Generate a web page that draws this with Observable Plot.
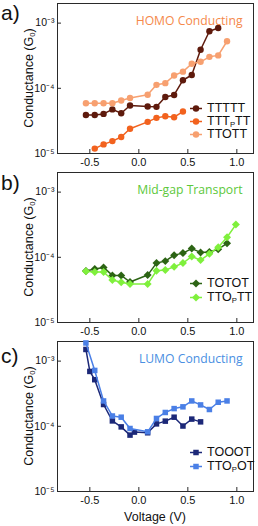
<!DOCTYPE html>
<html><head><meta charset="utf-8">
<script src="https://cdn.jsdelivr.net/npm/d3@7"></script>
<script src="https://cdn.jsdelivr.net/npm/@observablehq/plot@0.6"></script>
<style>
html,body{margin:0;padding:0;background:#fff;overflow:hidden;}
body{font-family:"Liberation Sans",Arial,sans-serif;color:#111;}
.panel{position:relative;width:258px;}
.panel svg{display:block;}
.lab{position:absolute;left:1px;font-size:21px;line-height:21px;color:#111;}
.ylab{position:absolute;width:150px;height:14px;text-align:center;font-size:12.5px;line-height:14px;transform:rotate(-90deg);white-space:nowrap;}
.xlab{position:absolute;left:57px;width:196px;text-align:center;font-size:12.5px;line-height:14px;}
.row{position:absolute;left:189px;height:11px;line-height:11px;font-size:12.5px;display:flex;align-items:center;white-space:nowrap;overflow:visible;}
.row svg{margin-right:4px;display:block;}
sub{font-size:0.62em;vertical-align:-0.2em;line-height:0;}
</style></head><body>
<div id="root"></div>
<script>
// ---------- data ----------
const xTicks = [-0.5, 0, 0.5, 1.0];
const yTicks = [1e-5, 1e-4, 1e-3];

// panel a
const vTTTTT = [-0.54,-0.45,-0.36,-0.27,-0.18,-0.09,0.09,0.18,0.27,0.36,0.45,0.54,0.63,0.72,0.81];
const gTTTTT = [3.9e-5,3.9e-5,4.05e-5,4.75e-5,4.15e-5,5.45e-5,5.25e-5,5.2e-5,7.35e-5,7.9e-5,1.33e-4,1.6e-4,3.9e-4,7.5e-4,8.4e-4];
const vTTTpTT = [-0.45,-0.36,-0.27,-0.18,-0.09,0.09,0.18,0.27,0.36,0.45];
const gTTTpTT = [1.19e-5,1.38e-5,1.55e-5,1.79e-5,2.4e-5,3.06e-5,3.52e-5,3.73e-5,3.6e-5,4.4e-5];
const vTTOTT = [-0.54,-0.45,-0.36,-0.27,-0.18,-0.09,0.09,0.18,0.27,0.36,0.45,0.54,0.63,0.72,0.81,0.90];
const gTTOTT = [5.9e-5,5.9e-5,5.9e-5,5.9e-5,6.5e-5,7.1e-5,7.96e-5,1.13e-4,1.2e-4,1.57e-4,1.8e-4,2.38e-4,2.55e-4,3.04e-4,3.2e-4,5.27e-4];

// panel b
const vTOTOT = [-0.54,-0.45,-0.36,-0.27,-0.18,-0.09,0.09,0.18,0.27,0.36,0.45,0.54,0.63,0.72,0.81,0.90];
const gTOTOT = [6.15e-5,6.6e-5,7.0e-5,5.28e-5,5.28e-5,4.18e-5,5.34e-5,8.15e-5,8.74e-5,1.08e-4,1.16e-4,1.36e-4,1.19e-4,1.21e-4,1.33e-4,1.64e-4];
const vTTOpTT = [-0.54,-0.45,-0.36,-0.27,-0.18,-0.09,0.09,0.18,0.27,0.36,0.45,0.54,0.63,0.72,0.81,0.90,0.99];
const gTTOpTT = [6.1e-5,5.94e-5,5.94e-5,4.48e-5,4.13e-5,3.89e-5,3.89e-5,6.22e-5,6.37e-5,7.16e-5,8.15e-5,1.03e-4,9.06e-5,1.13e-4,1.43e-4,2.03e-4,3.18e-4];

// panel c
const vTOOOT = [-0.54,-0.5,-0.45,-0.36,-0.27,-0.18,-0.09,-0.045,0.09,0.18,0.27,0.36,0.45,0.54,0.63];
const gTOOOT = [1.51e-3,6.95e-4,5.19e-4,2.16e-4,1.21e-4,9.8e-5,7.33e-5,8.15e-5,7.96e-5,1.09e-4,1.2e-4,1.38e-4,1.01e-4,1.29e-4,1.17e-4];
const vTTOpOT = [-0.54,-0.45,-0.36,-0.27,-0.18,-0.09,0.09,0.18,0.27,0.36,0.45,0.54,0.63,0.72,0.81,0.90];
const gTTOpOT = [1.9e-3,7.2e-4,2.45e-4,1.44e-4,1.38e-4,9.26e-5,8.24e-5,1.32e-4,1.63e-4,1.87e-4,1.99e-4,2.45e-4,2.13e-4,1.81e-4,2.34e-4,2.45e-4];

const panels = [
  {letter:"a)", title:"HOMO Conducting", titleColor:"#f5894a", symbol:"circle", r:3.2,
   top:3, bottom:17, height:170, letterTop:1.5, legendTop:[102.8,116.1,129.4],
   series:[
     {name:"TTTTT", html:"TTTTT", v:vTTTTT, g:gTTTTT, color:"#5e1a0c"},
     {name:"TTTpTT", html:"TTT<sub>P</sub>TT", v:vTTTpTT, g:gTTTpTT, color:"#f2621e"},
     {name:"TTOTT", html:"TTOTT", v:vTTOTT, g:gTTOTT, color:"#f7a070"}
   ]},
  {letter:"b)", title:"Mid-gap Transport", titleColor:"#5cc83a", symbol:"diamond2", r:3.6,
   top:2, bottom:18, height:170, letterTop:1.5, legendTop:[108.2,121.5],
   series:[
     {name:"TOTOT", html:"TOTOT", v:vTOTOT, g:gTOTOT, color:"#2c6414"},
     {name:"TTOpTT", html:"TTO<sub>P</sub>TT", v:vTTOpTT, g:gTTOpTT, color:"#7ff03c"}
   ]},
  {letter:"c)", title:"LUMO Conducting", titleColor:"#4a8fe2", symbol:"square", r:3.1,
   top:1, bottom:35, height:186, letterTop:4.5, legendTop:[107.2,120.5], xlabel:"Voltage (V)",
   series:[
     {name:"TOOOT", html:"TOOOT", v:vTOOOT, g:gTOOOT, color:"#1c2878"},
     {name:"TTOpOT", html:"TTO<sub>P</sub>OT", v:vTTOpOT, g:gTTOpOT, color:"#4a7fe6"}
   ]}
];

const W = 258, ML = 57, MR = 5;
const sup = {"-":"⁻","0":"⁰","1":"¹","2":"²","3":"³","4":"⁴","5":"⁵","6":"⁶","7":"⁷","8":"⁸","9":"⁹"};
const fmtY = d => "10" + String(Math.round(Math.log10(d))).split("").map(c => sup[c]).join("");

const root = document.getElementById("root");
for (const p of panels) {
  const plotH = p.height - p.top - p.bottom;
  const plotW = W - ML - MR;
  const marks = [
    Plot.frame({stroke:"#2a2a2a", strokeWidth:1}),
    Plot.axisX(xTicks, {tickSize:0, tickPadding:5, tickFormat: d => d.toFixed(1), label:null, fontSize:11}),
    Plot.axisY(yTicks, {tickSize:0, tickPadding:3, tickFormat: fmtY, label:null, fontSize:10.5}),
    Plot.tickX(xTicks, {x: d => d, insetTop: plotH - 4, stroke:"#2a2a2a"}),
    Plot.tickY(yTicks, {y: d => d, insetRight: plotW - 4, stroke:"#2a2a2a"})
  ];
  for (const s of p.series) {
    const rows = s.v.map((v, i) => ({v, g: s.g[i]}));
    marks.push(Plot.line(rows, {x:"v", y:"g", stroke:s.color, strokeWidth:1.5}));
    marks.push(Plot.dot(rows, {x:"v", y:"g", fill:s.color, stroke:"none", symbol:p.symbol, r:p.r}));
  }
  marks.push(Plot.text([p.title], {text: d => d, frameAnchor:"top-right", dx:-11, dy:12.5, textAnchor:"end",
    fill:p.titleColor, fontSize:12.2, fontFamily:"'Open Sans', sans-serif"}));

  const chart = Plot.plot({
    width: W, height: p.height,
    marginLeft: ML, marginRight: MR, marginTop: p.top, marginBottom: p.bottom,
    style: {fontFamily:"'Liberation Sans', Arial, sans-serif", fontSize:"11px", color:"#111", background:"#fff", overflow:"visible"},
    x: {domain:[-0.83, 1.17]},
    y: {type:"log", domain:[1e-5, 2e-3]},
    marks
  });

  const div = document.createElement("div");
  div.className = "panel";
  div.style.height = p.height + "px";
  div.appendChild(chart);

  const lab = document.createElement("div");
  lab.className = "lab"; lab.style.top = p.letterTop + "px"; lab.textContent = p.letter;
  div.appendChild(lab);

  const cy = p.top + plotH / 2;
  const yl = document.createElement("div");
  yl.className = "ylab"; yl.style.left = (29 - 75) + "px"; yl.style.top = (cy - 7) + "px";
  yl.innerHTML = "Conductance (G<sub>0</sub>)";
  div.appendChild(yl);

  if (p.xlabel) {
    const xl = document.createElement("div");
    xl.className = "xlab"; xl.style.top = (p.height - 16) + "px"; xl.textContent = p.xlabel;
    div.appendChild(xl);
  }

  const symPath = (sym, r) => {
    const s = sym === "circle" ? d3.symbolCircle : sym === "square" ? d3.symbolSquare : d3.symbolDiamond2;
    return d3.symbol(s, Math.PI * r * r)();
  };
  p.series.forEach((s, i) => {
    const row = document.createElement("div");
    row.className = "row"; row.style.top = p.legendTop[i] + "px";
    row.innerHTML = `<svg width="14" height="11"><line x1="1" x2="13" y1="5.5" y2="5.5" stroke="${s.color}" stroke-width="1.5"/><path transform="translate(7,5.5)" d="${symPath(p.symbol, p.r)}" fill="${s.color}"/></svg><span>${s.html}</span>`;
    div.appendChild(row);
  });

  root.appendChild(div);
}
</script>
</body></html>
